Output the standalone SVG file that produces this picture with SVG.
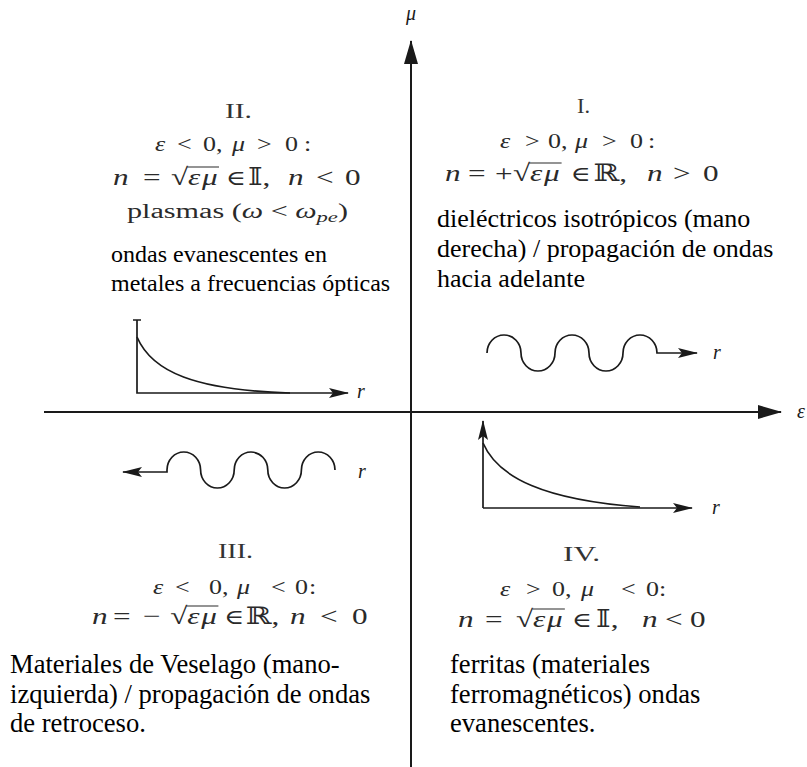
<svg xmlns="http://www.w3.org/2000/svg" width="807" height="767" viewBox="0 0 807 767">
<style>
.ax{stroke:#1a1a1a;stroke-width:2;fill:none}
.ln{stroke:#1a1a1a;stroke-width:1.7;fill:none}
.m2{font-family:"Liberation Serif","DejaVu Serif",serif;font-size:20px;fill:#2a2a2a}
.m3{font-family:"Liberation Serif","DejaVu Serif",serif;font-size:24px;fill:#2a2a2a}
.nu{font-family:"Liberation Serif","DejaVu Serif",serif;font-size:20px;fill:#333}
.t{font-family:"Liberation Serif","DejaVu Serif",serif;font-size:26px;fill:#000}
.ts{font-size:24px}
.tb{font-size:26.6px}
.lb{font-family:"Liberation Serif","DejaVu Serif",serif;font-size:20px;font-style:italic;fill:#1a1a1a}
.i{font-style:italic}
.el{font-size:21px}
.ov{stroke:#2a2a2a;stroke-width:1.1}
</style>
<defs>
<marker id="big" markerWidth="24" markerHeight="16" refX="23" refY="8" orient="auto" markerUnits="userSpaceOnUse"><path d="M0,1 L24,8 L0,15 Z" fill="#1a1a1a"/></marker>
<marker id="sm" markerWidth="20" markerHeight="12" refX="19" refY="6" orient="auto" markerUnits="userSpaceOnUse"><path d="M0,1 L20,6 L0,11 L4,6 Z" fill="#1a1a1a"/></marker>
</defs>

<g id="axes">
<line class="ax" x1="411" y1="767" x2="411" y2="41" marker-end="url(#big)"/>
<line class="ax" x1="44" y1="412" x2="781" y2="412" marker-end="url(#big)"/>
<text class="lb" x="411" y="20" text-anchor="middle">μ</text>
<text class="lb" x="797" y="418">ε</text>
</g>

<g id="q2">
<text class="nu" x="225" y="118" textLength="27" lengthAdjust="spacingAndGlyphs">II.</text>
<g transform="scale(1.3,1)">
<text class="m2" y="151"><tspan x="119.2" class="i">ε</tspan><tspan x="136.2">&lt;</tspan><tspan x="156.2">0,</tspan><tspan x="178.5" class="i">μ</tspan><tspan x="197.7">&gt;</tspan><tspan x="219.2">0</tspan><tspan x="233.8">:</tspan></text>
<text class="m3" y="185"><tspan x="86.9" class="i">n</tspan><tspan x="110">=</tspan><tspan x="131.5">√</tspan><tspan x="144.6" class="i">ε</tspan><tspan x="155.4" class="i">μ</tspan><tspan x="173.8" class="el">∈</tspan><tspan x="190.8">𝕀,</tspan><tspan x="221.5" class="i">n</tspan><tspan x="243">&lt;</tspan><tspan x="265.4">0</tspan></text>
<line class="ov" x1="144" y1="167" x2="168.5" y2="167"/>
</g>
<text class="m2" x="127" y="218" font-size="22" textLength="221" lengthAdjust="spacingAndGlyphs">plasmas (<tspan class="i">ω</tspan> &lt; <tspan class="i">ω</tspan><tspan class="i" font-size="15" dy="4">pe</tspan><tspan dy="-4">)</tspan></text>
<text class="t ts" x="111" y="262">ondas evanescentes en</text>
<text class="t ts" x="111" y="291">metales a frecuencias ópticas</text>
<path class="ln" d="M133,320 H141 M137,320 V393 H348" marker-end="url(#sm)"/>
<path class="ln" d="M137,337 C152,372 195,390 290,393"/>
<text class="lb" x="357" y="398">r</text>
</g>

<g id="q1">
<text class="nu" x="577" y="113" textLength="13" lengthAdjust="spacingAndGlyphs">I.</text>
<g transform="scale(1.3,1)">
<text class="m2" y="148"><tspan x="384.6" class="i">ε</tspan><tspan x="403.8">&gt;</tspan><tspan x="421.5">0,</tspan><tspan x="442.3" class="i">μ</tspan><tspan x="463.1">&gt;</tspan><tspan x="484.6">0</tspan><tspan x="498.5">:</tspan></text>
<text class="m3" y="181"><tspan x="342.3" class="i">n</tspan><tspan x="360">=</tspan><tspan x="380.8">+</tspan><tspan x="394.6">√</tspan><tspan x="407.7" class="i">ε</tspan><tspan x="418.5" class="i">μ</tspan><tspan x="439" class="el">∈</tspan><tspan x="456.5">ℝ,</tspan><tspan x="497.7" class="i">n</tspan><tspan x="517.7">&gt;</tspan><tspan x="540.8">0</tspan></text>
<line class="ov" x1="407" y1="163" x2="432" y2="163"/>
</g>
<text class="t" x="437" y="227">dieléctricos isotrópicos (mano</text>
<text class="t" x="437" y="257">derecha) / propagación de ondas</text>
<text class="t" x="437" y="287">hacia adelante</text>
<path class="ln" d="M487,353 A17,18 0 0 1 521,353 A17,18 0 0 0 555,353 A17,18 0 0 1 589,353 A17,18 0 0 0 623,353 A17,18 0 0 1 657,353 L697,353" marker-end="url(#sm)"/>
<text class="lb" x="713" y="359">r</text>
</g>

<g id="q3">
<path class="ln" d="M335,470 A16.8,18 0 0 0 301.4,470 A16.8,18 0 0 1 267.8,470 A16.8,18 0 0 0 234.2,470 A16.8,18 0 0 1 200.6,470 A16.8,18 0 0 0 167,470 L167,472 L123,472" marker-end="url(#sm)"/>
<text class="lb" x="358" y="478">r</text>
<text class="nu" x="218" y="558" textLength="35" lengthAdjust="spacingAndGlyphs">III.</text>
<g transform="scale(1.3,1)">
<text class="m2" y="594"><tspan x="117.7" class="i">ε</tspan><tspan x="134.6">&lt;</tspan><tspan x="160.8">0,</tspan><tspan x="182.3" class="i">μ</tspan><tspan x="208.5">&lt;</tspan><tspan x="226.9">0</tspan><tspan x="237.7">:</tspan></text>
<text class="m3" y="624"><tspan x="70.8" class="i">n</tspan><tspan x="86.9">=</tspan><tspan x="110">−</tspan><tspan x="131">√</tspan><tspan x="144.1" class="i">ε</tspan><tspan x="154.9" class="i">μ</tspan><tspan x="172.6" class="el">∈</tspan><tspan x="189">ℝ,</tspan><tspan x="223.1" class="i">n</tspan><tspan x="246.2">&lt;</tspan><tspan x="270.8">0</tspan></text>
<line class="ov" x1="143.4" y1="606" x2="168" y2="606"/>
</g>
<text class="t tb" x="10" y="673">Materiales de Veselago (mano-</text>
<text class="t tb" x="10" y="703">izquierda) / propagación de ondas</text>
<text class="t tb" x="10" y="732">de retroceso.</text>
</g>

<g id="q4">
<path class="ln" d="M483,508 V421" marker-end="url(#sm)"/>
<path class="ln" d="M483,508 H692" marker-end="url(#sm)"/>
<path class="ln" d="M483,443 C498,478 545,500 640,507"/>
<text class="lb" x="712" y="514">r</text>
<text class="nu" x="563" y="561" textLength="37" lengthAdjust="spacingAndGlyphs">IV.</text>
<g transform="scale(1.3,1)">
<text class="m2" y="596"><tspan x="384.6" class="i">ε</tspan><tspan x="404.6">&gt;</tspan><tspan x="424.6">0,</tspan><tspan x="446.9" class="i">μ</tspan><tspan x="477.7">&lt;</tspan><tspan x="496.9">0</tspan><tspan x="506.9">:</tspan></text>
<text class="m3" y="627"><tspan x="352.3" class="i">n</tspan><tspan x="373.1">=</tspan><tspan x="396.9">√</tspan><tspan x="410" class="i">ε</tspan><tspan x="420.8" class="i">μ</tspan><tspan x="440" class="el">∈</tspan><tspan x="458.5">𝕀,</tspan><tspan x="493.8" class="i">n</tspan><tspan x="511.5">&lt;</tspan><tspan x="530.8">0</tspan></text>
<line class="ov" x1="409.5" y1="609" x2="434.5" y2="609"/>
</g>
<text class="t tb" x="450" y="673">ferritas (materiales</text>
<text class="t tb" x="450" y="703">ferromagnéticos) ondas</text>
<text class="t tb" x="450" y="732">evanescentes.</text>
</g>
</svg>
